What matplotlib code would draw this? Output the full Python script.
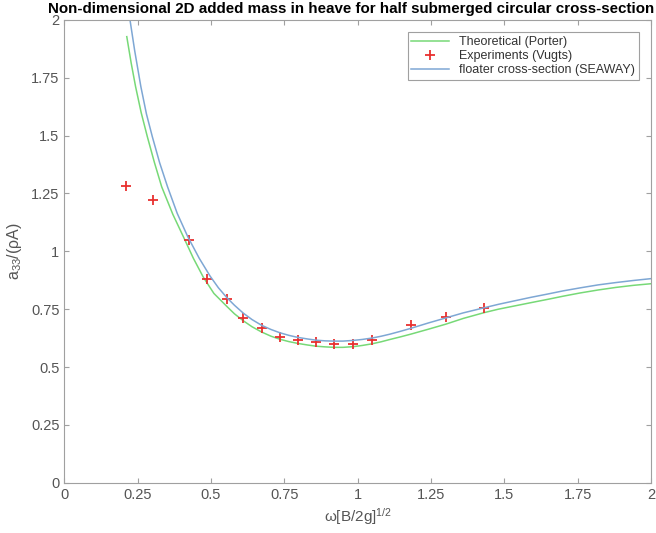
import numpy as np
import matplotlib.pyplot as plt

plt.rcParams['font.family'] = ['Liberation Sans', 'DejaVu Sans']
plt.rcParams['mathtext.fontset'] = 'custom'
plt.rcParams['mathtext.rm'] = 'Liberation Sans'
plt.rcParams['mathtext.it'] = 'Liberation Sans:italic'

# theoretical curve (Porter)
x_porter = [0.213, 0.228, 0.243, 0.262, 0.283, 0.307, 0.332, 0.37, 0.406, 0.44, 0.474,
            0.51, 0.554, 0.58, 0.61, 0.64, 0.673, 0.705, 0.735, 0.765, 0.796, 0.83,
            0.858, 0.89, 0.920, 0.95, 0.985, 1.015, 1.048, 1.08, 1.110, 1.145, 1.181,
            1.24, 1.300, 1.36, 1.431, 1.48, 1.531, 1.59, 1.65, 1.70, 1.758, 1.82,
            1.88, 1.94, 2.0]
y_porter = [1.928, 1.814, 1.712, 1.600, 1.496, 1.385, 1.279, 1.160, 1.063, 0.970, 0.888,
            0.818, 0.762, 0.730, 0.700, 0.674, 0.651, 0.633, 0.620, 0.610, 0.602, 0.595,
            0.590, 0.587, 0.585, 0.585, 0.588, 0.593, 0.600, 0.609, 0.619, 0.630, 0.642,
            0.663, 0.685, 0.710, 0.735, 0.750, 0.763, 0.778, 0.793, 0.806, 0.820, 0.833,
            0.844, 0.853, 0.860]

# SEAWAY floater cross-section
x_seaway = [0.200, 0.224, 0.24, 0.261, 0.28, 0.300, 0.325, 0.352, 0.385, 0.421, 0.46,
            0.497, 0.525, 0.554, 0.58, 0.610, 0.64, 0.673, 0.705, 0.735, 0.765, 0.796,
            0.83, 0.858, 0.89, 0.920, 0.95, 0.985, 1.015, 1.048, 1.08, 1.110, 1.145,
            1.181, 1.24, 1.300, 1.36, 1.431, 1.48, 1.531, 1.59, 1.65, 1.70, 1.758,
            1.82, 1.88, 1.94, 2.0]
y_seaway = [2.130, 2.000, 1.867, 1.712, 1.594, 1.496, 1.383, 1.279, 1.164, 1.063, 0.970,
            0.893, 0.843, 0.800, 0.767, 0.733, 0.705, 0.680, 0.662, 0.648, 0.637, 0.628,
            0.621, 0.616, 0.613, 0.612, 0.612, 0.615, 0.619, 0.625, 0.633, 0.642, 0.654,
            0.667, 0.690, 0.712, 0.734, 0.756, 0.771, 0.785, 0.801, 0.816, 0.829, 0.842,
            0.855, 0.865, 0.874, 0.882]

# experiments (Vugts)
x_exp = [0.210, 0.302, 0.425, 0.485, 0.554, 0.610, 0.673, 0.735, 0.796, 0.858,
         0.920, 0.985, 1.048, 1.181, 1.300, 1.431]
y_exp = [1.283, 1.221, 1.048, 0.879, 0.793, 0.713, 0.667, 0.631, 0.617, 0.608,
         0.598, 0.600, 0.617, 0.682, 0.718, 0.754]

ticks = [0, 0.25, 0.5, 0.75, 1, 1.25, 1.5, 1.75, 2]
tick_labels = ['0', '0.25', '0.5', '0.75', '1', '1.25', '1.5', '1.75', '2']

fig = plt.figure(figsize=(6.56, 5.33), dpi=100)
ax = fig.add_axes([0.098, 0.0944, 0.8944, 0.8681])

ax.plot(x_porter, y_porter, color='#77d977', lw=1.1, label='Theoretical (Porter)')
ax.plot(x_exp, y_exp, '+', color='#e8302f', ms=7, mew=1.3, label='Experiments (Vugts)')
ax.plot(x_seaway, y_seaway, color='#7ea7d4', lw=1.1, label='floater cross-section (SEAWAY)')

ax.set_xlim(0, 2)
ax.set_ylim(0, 2)
ax.set_xticks(ticks)
ax.set_xticklabels(tick_labels)
ax.set_yticks(ticks)
ax.set_yticklabels(tick_labels)
ax.tick_params(direction='in', length=3.5, top=True, right=True, labelsize=10.5,
               colors='#a0a0a0', labelcolor='#555555', width=0.8)
for s in ax.spines.values():
    s.set_color('#a0a0a0')
    s.set_linewidth(0.8)

ax.set_xlabel(r'ω[B/2g]$^{1/2}$', fontsize=11, color='#555555', labelpad=3)
ax.set_ylabel(r'a$_{33}$/(ρA)', fontsize=11.5, color='#555555', labelpad=5)
ax.set_title('Non-dimensional 2D added mass in heave for half submerged circular cross-section',
             fontsize=10.9, fontweight='bold', pad=5, x=0.489)

leg = ax.legend(loc='upper right', fontsize=9, fancybox=False, framealpha=1,
                edgecolor='#a0a0a0', handlelength=3.0, borderaxespad=1.0,
                labelspacing=0.15, borderpad=0.3)
leg.get_frame().set_linewidth(0.8)
for t in leg.get_texts():
    t.set_color('#333333')

fig.savefig('out.png', dpi=100)
